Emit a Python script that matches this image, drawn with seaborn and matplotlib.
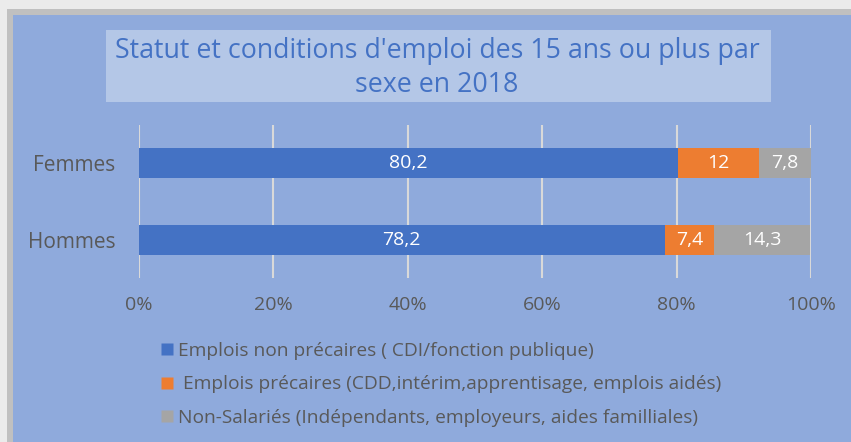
import matplotlib
matplotlib.use("Agg")
import matplotlib.pyplot as plt
import seaborn as sns
import pandas as pd
import numpy as np
from matplotlib.patches import Rectangle
from matplotlib.lines import Line2D

categories = ["Femmes", "Hommes"]
non_precaires = [80.2, 78.2]
precaires = [12.0, 7.4]
non_salaries = [7.8, 14.3]
value_labels = [["80,2", "12", "7,8"], ["78,2", "7,4", "14,3"]]
series_names = ["Emplois non précaires ( CDI/fonction publique)",
                " Emplois précaires (CDD,intérim,apprentisage, emplois aidés)",
                "Non-Salariés (Indépendants, employeurs, aides familliales)"]
xticks = [0, 20, 40, 60, 80, 100]
xtick_labels = ["0%", "20%", "40%", "60%", "80%", "100%"]
title = "Statut et conditions d'emploi des 15 ans ou plus par\nsexe en 2018"

colors = ["#4472C4", "#ED7D31", "#A5A5A5"]
bg = "#8FAADC"
txt = "#595959"

sns.set_theme(style="white")
plt.rcParams['font.family'] = ['Open Sans', 'DejaVu Sans']

W, H = 851, 442
fig = plt.figure(figsize=(W/100, H/100), dpi=100)
fig.patch.set_facecolor("#EBEBEB")
# shadow + blue panel
fig.add_artist(Rectangle((7/W, 0), (W-7)/W, (H-9)/H, transform=fig.transFigure,
                         facecolor="#C0C0C0", edgecolor="none", zorder=0))
fig.add_artist(Rectangle((13/W, 0), (W-13)/W, (H-15)/H, transform=fig.transFigure,
                         facecolor=bg, edgecolor="none", zorder=0))
# title box
fig.add_artist(Rectangle((106/W, 1-102/H), (771-106)/W, (102-30)/H, transform=fig.transFigure,
                         facecolor="#B4C7E7", edgecolor="none", zorder=1))
fig.text(437/W, 1-68/H, title, ha="center", va="center", fontsize=19.3,
         color="#4472C4", linespacing=1.33, zorder=2)

ax = fig.add_axes([139/W, 1-278/H, (811-139)/W, (278-125)/H])
ax.set_facecolor("none")

df = pd.DataFrame({"cat": categories,
                   "s1": non_precaires, "s2": precaires, "s3": non_salaries})
df["c1"] = df["s1"]
df["c2"] = df["s1"] + df["s2"]
df["c3"] = df["c2"] + df["s3"]

for col, c in zip(["c3", "c2", "c1"], colors[::-1]):
    sns.barplot(data=df, x=col, y="cat", orient="h", color=c, width=0.39,
                saturation=1, ax=ax, zorder=3, linewidth=0, edgecolor="none")

lefts = np.column_stack([np.zeros(2), df["c1"], df["c2"]])
widths = np.column_stack([df["s1"], df["s2"], df["s3"]])
for i in range(len(categories)):
    for j in range(3):
        ax.text(lefts[i, j] + widths[i, j] / 2, i, value_labels[i][j],
                ha="center", va="center", color="white", fontsize=14, zorder=5)

ax.set_xlim(0, 100)
ax.set_ylim(1.5, -0.5)
ax.set_xticks(xticks)
ax.set_xticklabels(xtick_labels, color=txt, fontsize=14)
ax.tick_params(axis="x", length=0, pad=13)
ax.tick_params(axis="y", length=0, pad=17, labelsize=15, labelcolor=txt)
ax.set_xlabel("")
ax.set_ylabel("")
for x in xticks:
    ax.axvline(x, color="#D9D9D9", lw=1.5, zorder=1)
for s in ax.spines.values():
    s.set_visible(False)

handles = [Line2D([0], [0], marker="s", color="none", markerfacecolor=c,
                  markeredgecolor="none", markersize=9) for c in colors]
leg = fig.legend(handles, series_names, loc="upper left",
                 bbox_to_anchor=(150/W, 1-332/H), frameon=False,
                 fontsize=13.8, labelcolor=txt, handlelength=0.75,
                 handletextpad=0.2, labelspacing=0.82, borderpad=0)

fig.savefig("out.png", dpi=100, facecolor=fig.get_facecolor())
